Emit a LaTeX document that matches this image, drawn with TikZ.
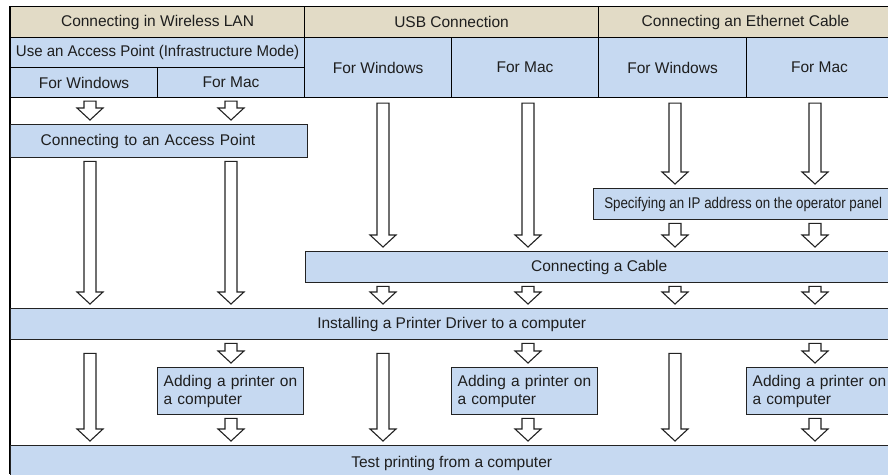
\documentclass[tikz,border=0pt]{standalone}
\usepackage{fontspec}
\setmainfont{Liberation Sans}
\usetikzlibrary{calc}
\definecolor{tanc}{RGB}{226,219,198}
\definecolor{bluec}{RGB}{198,217,241}
\definecolor{txt}{RGB}{30,30,30}
\definecolor{edge}{RGB}{35,35,35}
\begin{document}
\begin{tikzpicture}[x=1pt,y=-1pt,
  every node/.style={font=\fontsize{15.5}{18}\selectfont, text=txt},
  cellbase/.style={anchor=north west, inner sep=0pt, draw=black, line width=1.1pt},
  hdr/.style={cellbase, fill=tanc},
  sub/.style={cellbase, fill=bluec},
  stepbox/.style={anchor=north west, inner sep=0pt, draw=edge, line width=1.4pt, fill=bluec},
  addbox/.style={stepbox, inner xsep=6pt, text width=134pt, align=left, minimum height=47pt},
  barrow/.style={draw=edge, fill=white, line width=1.1pt, line join=miter,
    to path={let \p1=(\tikztostart), \p2=(\tikztotarget) in
      (\x1-6pt,\y1-3pt) -- (\x1+6pt,\y1-3pt) -- (\x1+6pt,\y2+16pt) -- (\x1+13pt,\y2+16pt)
      -- (\x1,\y2+4pt) -- (\x1-13pt,\y2+16pt) -- (\x1-6pt,\y2+16pt) -- cycle}}
]
\useasboundingbox (0,0) rectangle (888,474);
\clip (0,0) rectangle (888,474);
\fill[white] (0,0) rectangle (888,474);

% outer left border
\draw[black, line width=1.1pt] (10,6) -- (10,474);

% header
\node[hdr, minimum width=294pt, minimum height=31pt] (hW) at (10,6) {Connecting in Wireless LAN};
\node[hdr, minimum width=294pt, minimum height=31pt] (hU) at (304,6) {USB Connection};
\node[hdr, minimum width=294pt, minimum height=31pt] (hE) at (598,6) {Connecting an Ethernet Cable};
\node[sub, minimum width=294pt, minimum height=30pt] (hAP) at (10,37) {\scalebox{0.97}[1]{Use an Access Point (Infrastructure Mode)}};
\node[sub, minimum width=147pt, minimum height=30pt] (wW) at (10,67) {For Windows};
\node[sub, minimum width=147pt, minimum height=30pt] (wM) at (157,67) {For Mac};
\node[sub, minimum width=147pt, minimum height=60pt] (uW) at (304,37) {For Windows};
\node[sub, minimum width=147pt, minimum height=60pt] (uM) at (451,37) {For Mac};
\node[sub, minimum width=148pt, minimum height=60pt] (eW) at (598,37) {For Windows};
\node[sub, minimum width=146pt, minimum height=60pt] (eM) at (746,37) {For Mac};

% flow boxes
\node[stepbox, text width=297pt, align=left, minimum height=33pt] (ap) at (10,124) {\hspace*{30pt}Connecting to an Access Point};
\node[stepbox, minimum width=299pt, minimum height=31pt] (ip) at (593,188) {\scalebox{0.86}[1]{Specifying an IP address on the operator panel}};
\node[stepbox, minimum width=587pt, minimum height=31pt] (cable) at (305,251) {Connecting a Cable};
\node[stepbox, minimum width=882pt, minimum height=31pt] (drv) at (10,308) {Installing a Printer Driver to a computer};
\node[addbox] (add1) at (157,367) {Adding a printer on\\a computer};
\node[addbox] (add2) at (451,367) {Adding a printer on\\a computer};
\node[addbox] (add3) at (746,367) {Adding a printer on\\a computer};
\node[stepbox, minimum width=882pt, minimum height=35pt] (test) at (10,445) {\raisebox{2pt}{Test printing from a computer}};

% columns
\coordinate (cWW) at (90,0);
\coordinate (cWM) at (231,0);
\coordinate (cUW) at (383,0);
\coordinate (cUM) at (528,0);
\coordinate (cEW) at (675,0);
\coordinate (cEM) at (815,0);

% wireless
\draw[barrow] (cWW |- wW.south) to (cWW |- ap.north);
\draw[barrow] (cWM |- wM.south) to (cWM |- ap.north);
\draw[barrow] (cWW |- ap.south) to (cWW |- drv.north);
\draw[barrow] (cWM |- ap.south) to (cWM |- drv.north);
% usb
\draw[barrow] ([yshift=-2pt]cUW |- uW.south) to (cUW |- cable.north);
\draw[barrow] ([yshift=-2pt]cUM |- uM.south) to (cUM |- cable.north);
\draw[barrow] (cUW |- cable.south) to (cUW |- drv.north);
\draw[barrow] (cUM |- cable.south) to (cUM |- drv.north);
% ethernet
\draw[barrow] ([yshift=-2pt]cEW |- eW.south) to (cEW |- ip.north);
\draw[barrow] ([yshift=-2pt]cEM |- eM.south) to (cEM |- ip.north);
\draw[barrow] (cEW |- ip.south) to (cEW |- cable.north);
\draw[barrow] (cEM |- ip.south) to (cEM |- cable.north);
\draw[barrow] (cEW |- cable.south) to (cEW |- drv.north);
\draw[barrow] (cEM |- cable.south) to (cEM |- drv.north);
% lower section
\draw[barrow] ([yshift=-10pt]cWW |- drv.south) to (cWW |- test.north);
\draw[barrow] ([yshift=-10pt]cUW |- drv.south) to (cUW |- test.north);
\draw[barrow] ([yshift=-10pt]cEW |- drv.south) to (cEW |- test.north);
\draw[barrow] (cWM |- drv.south) to (cWM |- add1.north);
\draw[barrow] (cUM |- drv.south) to (cUM |- add2.north);
\draw[barrow] (cEM |- drv.south) to (cEM |- add3.north);
\draw[barrow] (cWM |- add1.south) to (cWM |- test.north);
\draw[barrow] (cUM |- add2.south) to (cUM |- test.north);
\draw[barrow] (cEM |- add3.south) to (cEM |- test.north);
\end{tikzpicture}
\end{document}
